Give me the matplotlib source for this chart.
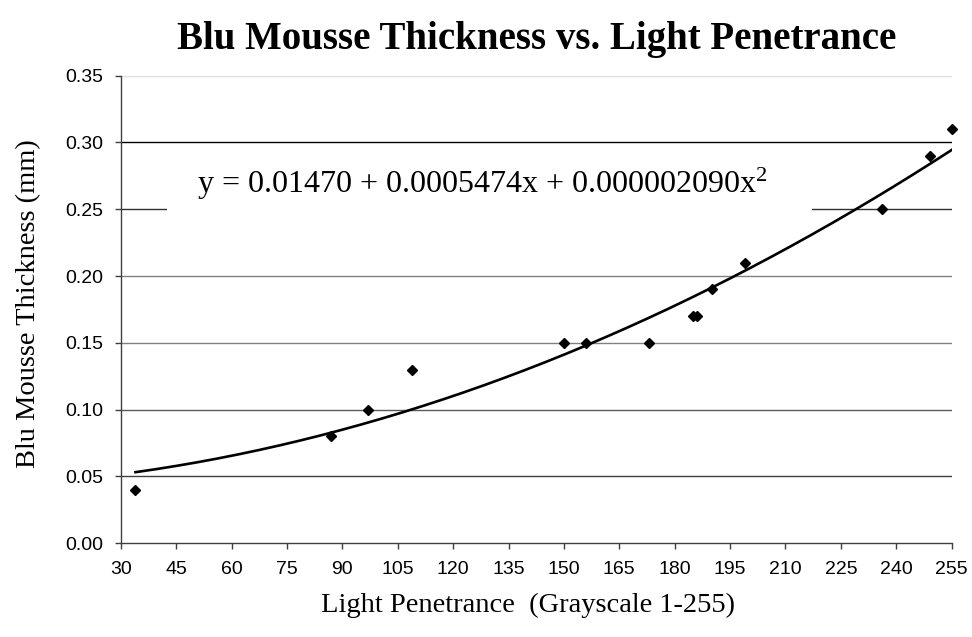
import matplotlib
matplotlib.use("Agg")
import matplotlib.pyplot as plt
import numpy as np
from matplotlib.patches import Rectangle

# data
light = [34, 87, 97, 109, 150, 156, 173, 185, 186, 190, 199, 236, 249, 255]
thickness = [0.04, 0.08, 0.10, 0.13, 0.15, 0.15, 0.15, 0.17, 0.17, 0.19, 0.21, 0.25, 0.29, 0.31]
x_ticks = list(range(30, 256, 15))
y_ticks = [0.00, 0.05, 0.10, 0.15, 0.20, 0.25, 0.30, 0.35]
grid_colors = ['#404040', '#5a5a5a', '#808080', '#808080', '#303030', '#000000', '#dcdcdc']
equation = r'y = 0.01470 + 0.0005474x + 0.000002090x$^{2}$'

plt.rcParams['mathtext.fontset'] = 'custom'
plt.rcParams['mathtext.rm'] = 'Liberation Serif'
plt.rcParams['mathtext.it'] = 'Liberation Serif'

fig = plt.figure(figsize=(9.72, 6.37), dpi=100)
ax = fig.add_axes([0.1242, 0.1471, 0.8549, 0.7341])

ax.set_xlim(30, 255)
ax.set_ylim(0, 0.35)

# horizontal gridlines (Excel style, no vertical)
for yv, c in zip(y_ticks[1:], grid_colors):
    ax.axhline(yv, color=c, linewidth=1.0, zorder=1)

# white box behind the equation
ax.add_patch(Rectangle((42.6, 0.236), 174.6, 0.056, facecolor='white',
                       edgecolor='none', zorder=2))
ax.text(50.6, 0.2625, equation, fontsize=23, family='Liberation Serif',
        ha='left', va='baseline', zorder=3)

# quadratic trendline
coef = np.polyfit(light, thickness, 2)
xs = np.linspace(min(light), max(light), 200)
ax.plot(xs, np.polyval(coef, xs), color='black', linewidth=1.9, zorder=4)

ax.plot(light, thickness, linestyle='none', marker='D', markersize=5,
        color='black', zorder=5, clip_on=False)

ax.set_xticks(x_ticks)
ax.set_yticks(y_ticks)
ax.set_yticklabels([f'{v:.2f}' for v in y_ticks])
for lab in ax.get_xticklabels() + ax.get_yticklabels():
    lab.set_family('Liberation Sans')
    lab.set_fontsize(14)
ax.tick_params(direction='out', length=4.5, width=1, color='#404040', pad=8)

for s in ['top', 'right']:
    ax.spines[s].set_visible(False)
for s in ['left', 'bottom']:
    ax.spines[s].set_color('#404040')
    ax.spines[s].set_linewidth(1.0)

ax.set_xlabel('Light Penetrance  (Grayscale 1-255)', family='Liberation Serif',
              fontsize=20.5)
ax.xaxis.set_label_coords(0.49, -0.106)
ax.set_ylabel('Blu Mousse Thickness (mm)', family='Liberation Serif',
              fontsize=20.5)
ax.yaxis.set_label_coords(-0.096, 0.512)
ax.set_title('Blu Mousse Thickness vs. Light Penetrance', family='Liberation Serif',
             fontsize=28, fontweight='bold', pad=19)

fig.savefig('out.png', dpi=100)
